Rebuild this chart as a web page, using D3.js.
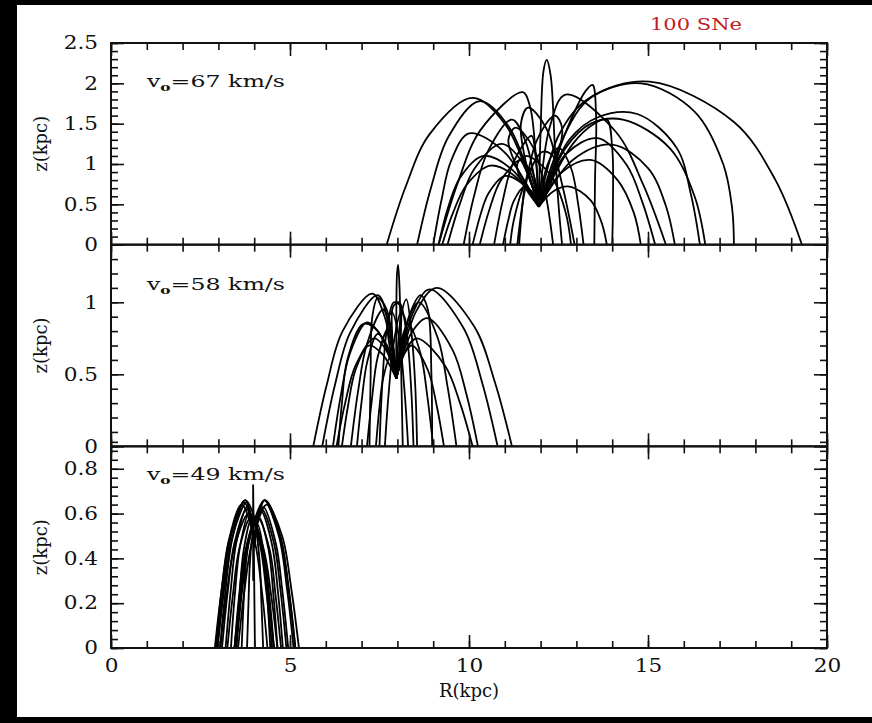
<!DOCTYPE html>
<meta charset="utf-8">
<script src="https://d3js.org/d3.v7.min.js"></script>
<style>
  body { margin: 0; background: #000; }
</style>
<div id="my_dataviz"></div>
<script>

// ---- data ----
var rTicks = [0, 5, 10, 15, 20];
var speeds = [67, 58, 49];
var zTop = [2.5, 1.4, 0.9];
var zTicks67 = [0, 0.5, 1, 1.5, 2, 2.5];
var zTicks58 = [0, 0.5, 1];
var zTicks49 = [0, 0.2, 0.4, 0.6, 0.8];
var zMinorStep = [0.1, 0.1, 0.04];

// cloud orbits, [R, z] in kpc
var traj67 = [
  [[11.95,.47],[11.03,1.48],[10.1,1.82],[8.9,1.37],[8.24,.73],[7.7,0]],
  [[11.95,.47],[11.85,1.2],[11.7,1.72],[11.5,1.89],[10.32,1.42],[9.68,.76],[9.15,0]],
  [[11.95,.47],[11.13,1.45],[10.3,1.78],[9.43,1.34],[8.94,.71],[8.55,0]],
  [[11.95,.47],[11.18,.94],[10.4,1.1],[9.75,.83],[9.4,.44],[9.15,0]],
  [[11.95,.47],[11.28,.85],[10.6,.98],[9.93,.74],[9.55,.39],[9.25,0]],
  [[11.95,.47],[11.43,1.06],[10.9,1.25],[10.15,.94],[9.74,.5],[9.4,0]],
  [[11.95,.47],[11.58,1.28],[11.2,1.55],[10.53,1.16],[10.15,.62],[9.85,0]],
  [[11.95,.47],[11.48,.76],[11.0,.85],[10.55,.64],[10.3,.34],[10.1,0]],
  [[11.95,.47],[11.7,.91],[11.45,1.05],[10.88,.79],[10.56,.42],[10.3,0]],
  [[11.95,.47],[11.75,.66],[11.55,.72],[11.25,.54],[11.09,.29],[10.95,0]],
  [[11.95,.47],[11.85,1.13],[11.75,1.35],[11.23,1.01],[10.94,.54],[10.7,0]],
  [[11.95,.47],[11.85,.8],[11.7,.95],[11.55,.7],[11.47,.38],[11.4,0]],
  [[11.95,.47],[10.98,1.15],[10.0,1.38],[9.5,1.04],[9.23,.55],[9.0,0]],
  [[11.95,.47],[12.6,1.3],[13.4,1.82],[15.05,2.02],[17.4,1.52],[18.55,.81],[19.3,0]],
  [[11.95,.47],[12.5,1.35],[13.3,1.8],[14.8,2.0],[16.3,1.65],[17.1,1.0],[17.35,.45],[17.4,0]],
  [[11.95,.47],[12.7,1.2],[13.4,1.5],[14.3,1.55],[15.6,1.2],[16.3,.6],[16.6,0]],
  [[11.95,.47],[12.9,1.05],[14.0,1.24],[15.0,.95],[15.5,.48],[15.75,0]],
  [[11.95,.47],[12.6,.9],[13.4,1.05],[14.15,.8],[14.6,.4],[14.8,0]],
  [[11.95,.47],[12.9,1.25],[13.5,1.5],[13.85,1.55],[14.0,1.2],[14.02,.5],[14.0,0]],
  [[11.95,.47],[12.8,1.5],[13.25,1.9],[13.45,1.98],[13.55,1.6],[13.52,.8],[13.5,0]],
  [[11.95,.47],[12.0,1.4],[12.08,2.15],[12.17,2.29],[12.28,2.1],[12.4,1.2],[12.5,.5],[12.6,0]],
  [[11.95,.47],[12.8,1.3],[13.6,1.58],[14.7,1.62],[15.8,1.2],[16.2,.62],[16.45,0]],
  [[11.95,.47],[12.25,1.45],[12.7,1.86],[14.1,1.4],[14.87,.74],[15.5,0]],
  [[11.95,.47],[12.35,.66],[12.8,.72],[13.4,.55],[13.7,.28],[13.85,0]],
  [[11.95,.47],[12.7,1.12],[13.6,1.32],[14.4,.99],[14.84,.53],[15.2,0]],
  [[11.95,.47],[12.2,1.0],[12.5,1.2],[12.85,.95],[13.05,.5],[13.2,0]],
  [[11.95,.47],[11.55,1.1],[11.45,1.5],[11.65,1.7],[12.15,1.45],[12.6,.75],[12.95,0]],
  [[11.95,.47],[11.35,.95],[11.1,1.3],[11.3,1.45],[11.8,1.2],[12.15,.6],[12.35,0]],
  [[11.95,.47],[12.45,1.05],[12.6,1.45],[12.4,1.6],[11.9,1.3],[11.55,.65],[11.35,0]],
  [[11.95,.47],[12.35,.85],[12.35,1.1],[12.05,1.15],[11.55,.75],[11.25,.3],[11.15,0]],
  [[11.95,.47],[11.45,.8],[11.35,1.0],[11.6,1.1],[12.3,.85],[12.7,.4],[12.85,0]]
];

var traj58 = [
  [[7.97,.47],[7.63,.91],[7.3,1.06],[6.47,.8],[6.02,.42],[5.65,0]],
  [[7.97,.47],[7.71,.9],[7.45,1.05],[6.68,.79],[6.25,.42],[5.9,0]],
  [[7.97,.47],[7.56,.76],[7.15,.86],[6.68,.65],[6.41,.34],[6.2,0]],
  [[7.97,.47],[7.58,.64],[7.2,.70],[6.83,.53],[6.62,.28],[6.45,0]],
  [[7.97,.47],[7.78,.83],[7.6,.95],[7.15,.71],[6.9,.38],[6.7,0]],
  [[7.97,.47],[7.71,.7],[7.45,.78],[7.16,.59],[7.0,.31],[6.87,0]],
  [[7.97,.47],[7.86,.73],[7.75,.82],[7.45,.62],[7.29,.33],[7.15,0]],
  [[7.97,.47],[7.88,.58],[7.8,.62],[7.6,.47],[7.49,.25],[7.4,0]],
  [[7.97,.47],[7.66,.68],[7.35,.75],[6.83,.56],[6.54,.3],[6.3,0]],
  [[7.97,.47],[8.53,.94],[9.1,1.10],[10.15,.83],[10.73,.44],[11.2,0]],
  [[7.97,.47],[8.44,.93],[8.9,1.09],[9.85,.82],[10.37,.44],[10.8,0]],
  [[7.97,.47],[8.4,.79],[8.83,.89],[9.54,.67],[9.93,.36],[10.25,0]],
  [[7.97,.47],[8.26,.68],[8.55,.75],[9.33,.56],[9.75,.3],[10.1,0]],
  [[7.97,.47],[8.29,.87],[8.6,1.0],[9.13,.75],[9.41,.4],[9.65,0]],
  [[7.97,.47],[8.19,.64],[8.4,.70],[8.85,.53],[9.1,.28],[9.3,0]],
  [[7.97,.47],[8.14,.76],[8.3,.85],[8.65,.64],[8.84,.34],[9.0,0]],
  [[7.97,.47],[7.97,.9],[7.99,1.2],[8.02,1.26],[8.06,1.1],[8.1,.6],[8.15,0]],
  [[7.97,.47],[8.1,.9],[8.25,1.02],[8.4,.77],[8.5,.41],[8.55,0]],
  [[7.97,.47],[7.85,.8],[7.88,.97],[8.05,1.0],[8.25,.8],[8.38,.42],[8.45,0]],
  [[7.97,.47],[8.1,.82],[8.07,.98],[7.9,1.0],[7.7,.8],[7.57,.4],[7.5,0]],
  [[7.97,.47],[7.75,.75],[7.72,.88],[7.85,.93],[8.05,.75],[8.2,.38],[8.3,0]],
  [[7.97,.47],[8.2,.75],[8.22,.88],[8.1,.93],[7.9,.72],[7.75,.35],[7.65,0]],
  [[7.97,.47],[8.35,.92],[8.65,1.05],[8.85,.95],[8.95,.5],[8.97,0]],
  [[7.97,.47],[7.7,.95],[7.45,1.03],[7.3,.9],[7.25,.45],[7.22,0]],
  [[7.97,.47],[7.45,.8],[7.05,.85],[6.6,.6],[6.45,.3],[6.35,0]]
];

var traj49 = [
  [[4.0,.45],[3.88,.61],[3.75,.66],[3.33,.5],[3.09,.26],[2.9,0]],
  [[4.0,.45],[3.86,.6],[3.72,.65],[3.39,.49],[3.2,.26],[3.05,0]],
  [[4.0,.45],[3.9,.59],[3.8,.63],[3.5,.47],[3.34,.25],[3.2,0]],
  [[4.0,.45],[3.93,.56],[3.85,.6],[3.6,.45],[3.46,.24],[3.35,0]],
  [[4.0,.45],[3.95,.54],[3.9,.57],[3.7,.43],[3.59,.23],[3.5,0]],
  [[4.0,.45],[3.89,.6],[3.78,.65],[3.38,.49],[3.16,.26],[2.98,0]],
  [[4.0,.45],[3.97,.52],[3.93,.54],[3.79,.41],[3.71,.22],[3.65,0]],
  [[4.0,.45],[3.98,.5],[3.96,.51],[3.88,.38],[3.84,.2],[3.8,0]],
  [[4.0,.45],[4.15,.61],[4.3,.66],[4.78,.5],[5.04,.26],[5.25,0]],
  [[4.0,.45],[4.14,.61],[4.28,.66],[4.69,.5],[4.92,.26],[5.1,0]],
  [[4.0,.45],[4.13,.59],[4.25,.63],[4.6,.47],[4.79,.25],[4.95,0]],
  [[4.0,.45],[4.1,.57],[4.2,.61],[4.5,.46],[4.67,.24],[4.8,0]],
  [[4.0,.45],[4.08,.55],[4.15,.58],[4.4,.44],[4.54,.23],[4.65,0]],
  [[4.0,.45],[4.05,.53],[4.1,.55],[4.28,.41],[4.37,.22],[4.45,0]],
  [[4.0,.45],[4.03,.5],[4.05,.52],[4.15,.39],[4.2,.21],[4.25,0]],
  [[3.97,.3],[3.97,.6],[3.97,.73],[3.98,.6],[4.0,.3],[4.02,0]],
  [[4.55,0],[4.37,.26],[4.15,.5],[3.75,.66],[3.35,.5],[3.13,.26],[2.95,0]],
  [[3.45,0],[3.64,.26],[3.88,.5],[4.3,.66],[4.73,.5],[4.96,.26],[5.15,0]],
  [[3.1,0],[3.26,.25],[3.45,.47],[3.8,.62],[4.15,.47],[4.34,.25],[4.5,0]],
  [[3.5,0],[3.66,.25],[3.85,.47],[4.2,.62],[4.55,.47],[4.74,.25],[4.9,0]],
  [[3.25,0],[3.4,.23],[3.58,.44],[3.9,.58],[4.23,.44],[4.4,.23],[4.55,0]],
  [[3.45,0],[3.6,.23],[3.78,.44],[4.1,.58],[4.43,.44],[4.6,.23],[4.75,0]],
  [[2.93,0],[3.09,.26],[3.29,.48],[3.65,.64],[4.01,.48],[4.21,.26],[4.37,0]],
  [[3.55,0],[3.73,.26],[3.95,.48],[4.35,.64],[4.75,.48],[4.97,.26],[5.15,0]],
  [[3.45,0],[3.57,.22],[3.72,.41],[4.0,.55],[4.28,.41],[4.43,.22],[4.55,0]],
  [[3.05,0],[3.23,.24],[3.45,.45],[3.85,.6],[4.25,.45],[4.47,.24],[4.65,0]]
];

var zTicks = [zTicks67, zTicks58, zTicks49];
var trajectories = [traj67, traj58, traj49];

// ---- layout ----
var W = 872, H = 723;
var left = 111, top0 = 43, width = 716, panelH = 201.67;
var font = "'DejaVu Serif', 'Liberation Serif', serif";

var svg = d3.select("#my_dataviz")
  .append("svg")
    .attr("width", W)
    .attr("height", H)
    .style("display", "block");

svg.append("rect").attr("width", W).attr("height", H).attr("fill", "#000");
svg.append("rect").attr("x", 17).attr("y", 5).attr("width", W - 17).attr("height", 712).attr("fill", "#fff");

var x = d3.scaleLinear().domain([0, 20]).range([0, width]);
var xMinor = d3.range(0, 21);

var line = d3.line()
  .x(function(d) { return x(d[0]); })
  .curve(d3.curveCatmullRom.alpha(0.5));

// stretch text sideways a little, the original font is wide
function widen(sel, f) {
  sel.each(function() {
    var w = this.getComputedTextLength();
    if (w > 0) d3.select(this).attr("textLength", w * f).attr("lengthAdjust", "spacingAndGlyphs");
  });
}

function styleTicks(g) {
  g.select(".domain").remove();
  g.selectAll(".tick line").attr("stroke", "#111").attr("stroke-width", 1.6);
  g.attr("font-family", font).attr("font-size", 18);
  g.selectAll(".tick text").attr("fill", "#111").call(widen, 1.2);
}

speeds.forEach(function(v, i) {
  var y = d3.scaleLinear().domain([0, zTop[i]]).range([panelH, 0]);
  var step = zMinorStep[i];
  var yMinor = d3.range(0, Math.round(zTop[i] / step) + 1).map(function(k) { return +(k * step).toFixed(3); });
  var last = i === speeds.length - 1;

  var g = svg.append("g")
    .attr("transform", "translate(" + left + "," + (top0 + i * panelH) + ")");

  g.append("clipPath").attr("id", "clip" + i)
    .append("rect").attr("width", width).attr("height", panelH);

  // orbits
  line.y(function(d) { return y(d[1]); });
  g.append("g")
    .attr("clip-path", "url(#clip" + i + ")")
    .selectAll("path")
    .data(trajectories[i])
    .enter()
    .append("path")
      .attr("d", line)
      .attr("fill", "none")
      .attr("stroke", "#000")
      .attr("stroke-width", 1.8);

  // minor ticks on all four sides
  g.append("g").attr("transform", "translate(0," + panelH + ")")
    .call(d3.axisBottom(x).tickValues(xMinor).tickSize(-7).tickSizeOuter(0).tickFormat(""))
    .call(styleTicks);
  g.append("g")
    .call(d3.axisTop(x).tickValues(xMinor).tickSize(-7).tickSizeOuter(0).tickFormat(""))
    .call(styleTicks);
  g.append("g")
    .call(d3.axisLeft(y).tickValues(yMinor).tickSize(-7).tickSizeOuter(0).tickFormat(""))
    .call(styleTicks);
  g.append("g").attr("transform", "translate(" + width + ",0)")
    .call(d3.axisRight(y).tickValues(yMinor).tickSize(-7).tickSizeOuter(0).tickFormat(""))
    .call(styleTicks);

  // major ticks
  g.append("g").attr("transform", "translate(0," + panelH + ")")
    .call(d3.axisBottom(x).tickValues(rTicks).tickSize(-13).tickSizeOuter(0).tickPadding(11)
      .tickFormat(last ? d3.format("d") : ""))
    .call(styleTicks);
  g.append("g")
    .call(d3.axisTop(x).tickValues(rTicks).tickSize(-13).tickSizeOuter(0).tickFormat(""))
    .call(styleTicks);
  g.append("g")
    .call(d3.axisLeft(y).tickValues(zTicks[i]).tickSize(-13).tickSizeOuter(0).tickPadding(13)
      .tickFormat(d3.format("~g")))
    .call(styleTicks);
  g.append("g").attr("transform", "translate(" + width + ",0)")
    .call(d3.axisRight(y).tickValues(zTicks[i]).tickSize(-13).tickSizeOuter(0).tickFormat(""))
    .call(styleTicks);

  // frame
  g.append("rect")
    .attr("width", width).attr("height", panelH)
    .attr("fill", "none").attr("stroke", "#111").attr("stroke-width", 2);

  // y label
  g.append("text")
    .attr("transform", "translate(-64," + (panelH / 2) + ") rotate(-90)")
    .attr("text-anchor", "middle")
    .attr("font-family", font).attr("font-size", 18).attr("fill", "#111")
    .text("z(kpc)");

  // speed annotation
  var ann = g.append("text")
    .attr("x", 36)
    .attr("y", [44, 45, 34][i])
    .attr("font-family", font).attr("font-size", 17).attr("fill", "#111")
    .attr("textLength", 138).attr("lengthAdjust", "spacingAndGlyphs");
  ann.append("tspan").text("v");
  ann.append("tspan").attr("font-size", 11).attr("font-weight", "bold").attr("dy", 4).text("o");
  ann.append("tspan").attr("dy", -4).text("=" + v + "  km/s");
});

// x label
svg.append("text")
  .attr("x", left + x(10))
  .attr("y", 697)
  .attr("text-anchor", "middle")
  .attr("font-family", font).attr("font-size", 18).attr("fill", "#111")
  .text("R(kpc)");

// title
svg.append("text")
  .attr("x", 650)
  .attr("y", 30)
  .attr("font-family", font).attr("font-size", 17).attr("fill", "#c0201c")
  .attr("textLength", 92).attr("lengthAdjust", "spacingAndGlyphs")
  .text("100 SNe");

</script>
